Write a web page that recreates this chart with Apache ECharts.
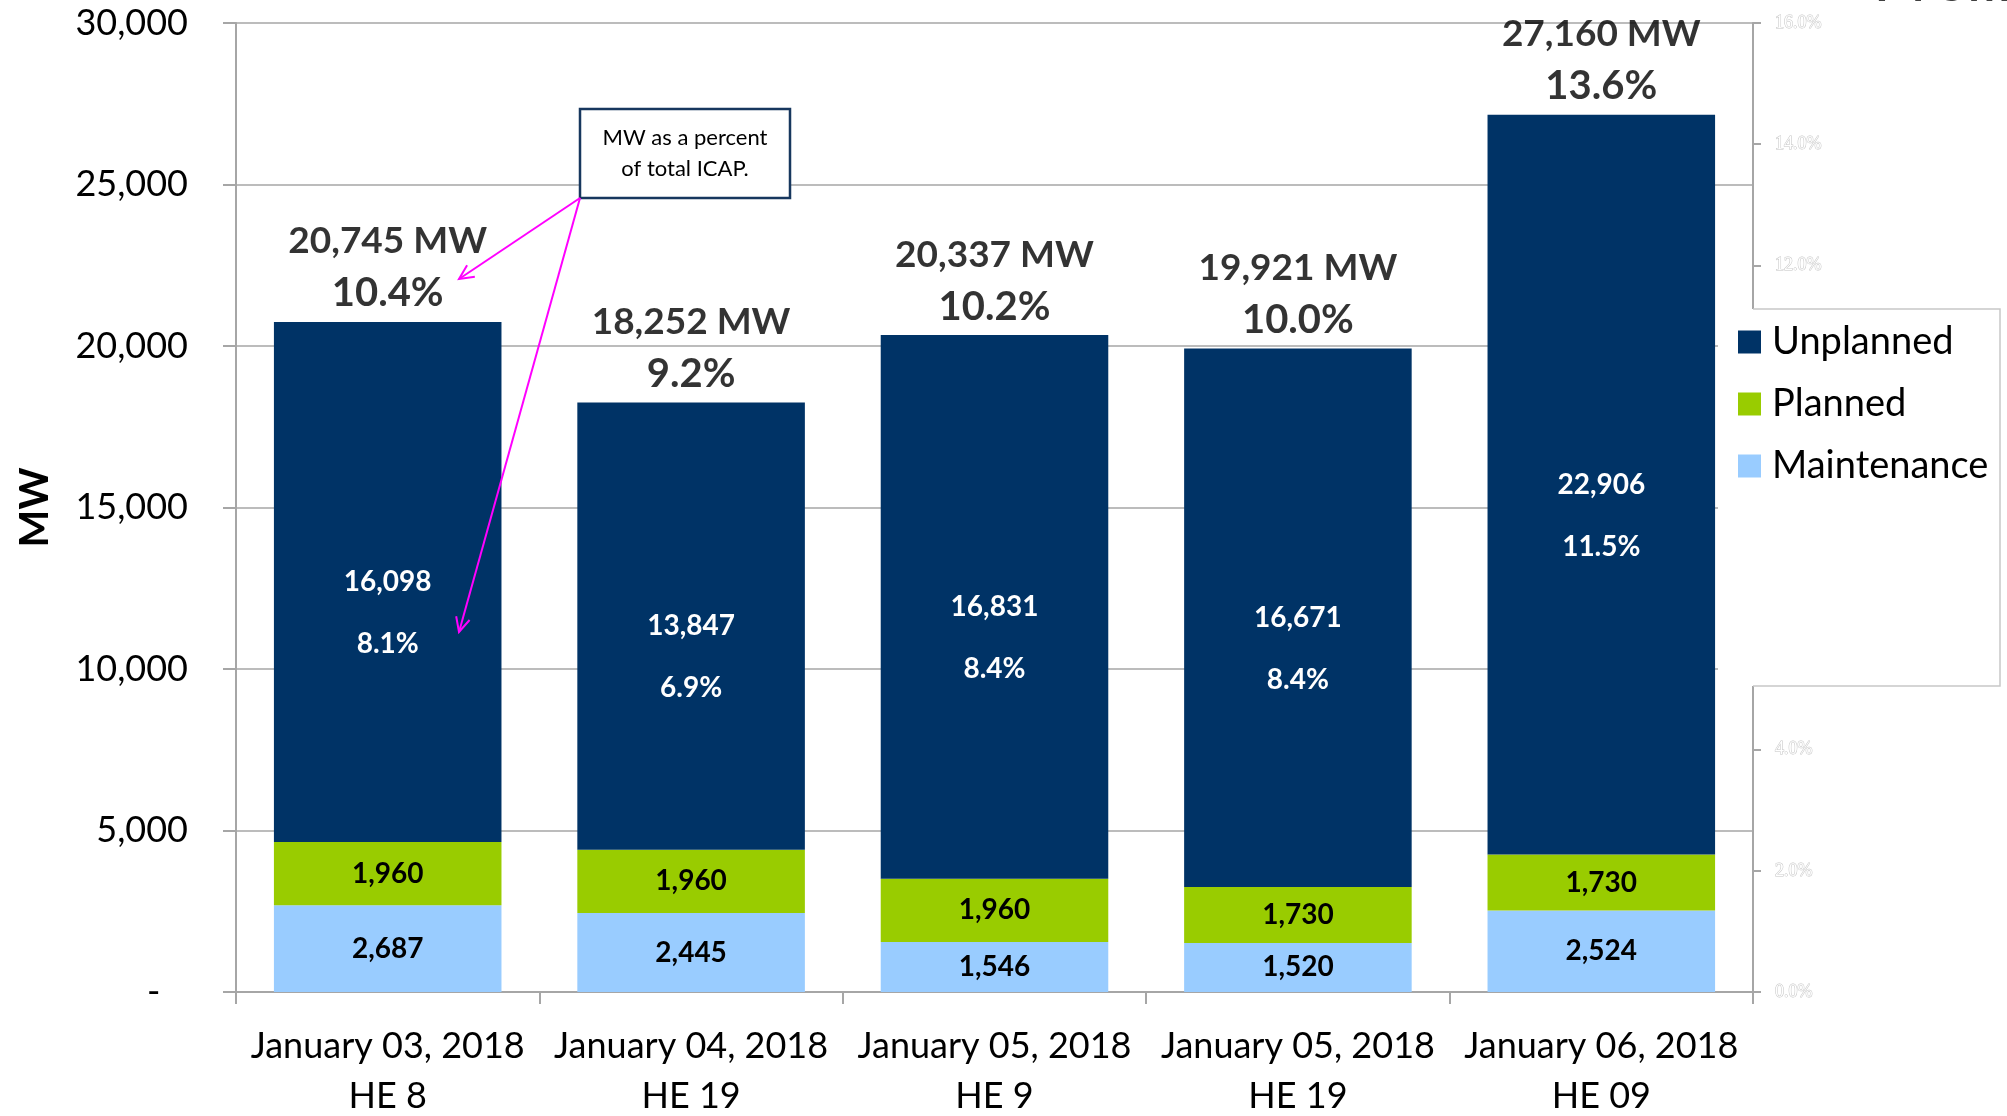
<!DOCTYPE html>
<html>
<head>
<meta charset="utf-8">
<title>Outages by day</title>
<script src="https://cdn.jsdelivr.net/npm/echarts@6/dist/echarts.min.js"></script>
<style>
  html, body { margin: 0; padding: 0; background: #fff; }
  #chartBox { width: 2007px; height: 1116px; }
</style>
</head>
<body>
<div id="chartBox"></div>
<script>
// categories (date + hour ending)
const days = [
  'January 03, 2018\nHE 8',
  'January 04, 2018\nHE 19',
  'January 05, 2018\nHE 9',
  'January 05, 2018\nHE 19',
  'January 06, 2018\nHE 09'
]
// MW per outage type
const maintenance = [2687, 2445, 1546, 1520, 2524]
const planned = [1960, 1960, 1960, 1730, 1730]
const unplanned = [16098, 13847, 16831, 16671, 22906]
const unplannedPct = ['8.1%', '6.9%', '8.4%', '8.4%', '11.5%']
// totals above the bars
const totals = [20745, 18252, 20337, 19921, 27160]
const totalPct = ['10.4%', '9.2%', '10.2%', '10.0%', '13.6%']
// axis ticks
const mwTicks = [0, 5000, 10000, 15000, 20000, 25000, 30000]
const pctTicks = [0, 2, 4, 6, 8, 10, 12, 14, 16]

const font = 'Lato'
const gridColor = '#a6a6a6'
const fmt = v => v.toLocaleString('en-US')

// simple line arrow with open head
function arrow(x1, y1, x2, y2) {
  let a = Math.atan2(y2 - y1, x2 - x1)
  let len = 16
  let spread = 0.45
  let style = { stroke: '#ff00ff', lineWidth: 2 }
  return [
    { type: 'line', shape: { x1: x1, y1: y1, x2: x2, y2: y2 }, style: style, z: 100 },
    {
      type: 'polyline',
      shape: {
        points: [
          [x2 - len * Math.cos(a - spread), y2 - len * Math.sin(a - spread)],
          [x2, y2],
          [x2 - len * Math.cos(a + spread), y2 - len * Math.sin(a + spread)]
        ]
      },
      style: style,
      z: 100
    }
  ]
}

let myChart = echarts.init(document.getElementById('chartBox'))
myChart.setOption({
  animation: false,
  backgroundColor: '#fff',
  textStyle: { fontFamily: font },
  grid: {
    left: 236,
    right: 254,
    top: 23,
    bottom: 124,
    outerBoundsMode: 'none'
  },
  legend: {
    data: ['Unplanned', 'Planned', 'Maintenance'],
    orient: 'vertical',
    left: 1718,
    top: 309,
    padding: [14, 6, 201, 20],
    backgroundColor: '#fff',
    icon: 'rect',
    itemWidth: 23,
    itemHeight: 23,
    itemGap: 24,
    textStyle: { fontFamily: font, fontSize: 38, color: '#000', lineHeight: 34, padding: [0, 0, 0, 6] },
    z: 20
  },
  xAxis: {
    type: 'category',
    data: days,
    axisLine: { show: true, lineStyle: { color: gridColor, width: 2 } },
    axisTick: { show: true, length: 12, lineStyle: { color: gridColor, width: 2 } },
    axisLabel: {
      margin: 29,
      fontSize: 36,
      lineHeight: 50,
      color: '#000',
      fontFamily: font,
      interval: 0
    }
  },
  yAxis: [
    {
      type: 'value',
      name: 'MW',
      nameLocation: 'middle',
      nameGap: 181,
      nameRotate: 90,
      nameTextStyle: { fontSize: 40, fontWeight: 'bold', color: '#000', fontFamily: font },
      min: mwTicks[0],
      max: mwTicks[mwTicks.length - 1],
      interval: mwTicks[1] - mwTicks[0],
      axisLine: { show: true, lineStyle: { color: gridColor, width: 2 } },
      axisTick: { show: true, length: 13, lineStyle: { color: gridColor, width: 2 } },
      splitLine: { show: true, lineStyle: { color: gridColor, width: 1.5 } },
      axisLabel: {
        margin: 48,
        fontSize: 36,
        color: '#000',
        fontFamily: font,
        formatter: v => (v === 0 ? '-   ' : fmt(v))
      }
    },
    {
      type: 'value',
      position: 'right',
      min: pctTicks[0],
      max: pctTicks[pctTicks.length - 1],
      interval: pctTicks[1] - pctTicks[0],
      axisLine: { show: true, lineStyle: { color: gridColor, width: 2 } },
      axisTick: { show: true, length: 8, lineStyle: { color: gridColor, width: 2 } },
      splitLine: { show: false },
      axisLabel: {
        margin: 22,
        fontSize: 18,
        fontFamily: 'Liberation Serif',
        color: '#fff',
        textBorderColor: '#c4c4c4',
        textBorderWidth: 1,
        formatter: v => v.toFixed(1) + '%'
      }
    }
  ],
  series: [
    {
      name: 'Maintenance',
      type: 'bar',
      stack: 'mw',
      barCategoryGap: '25%',
      data: maintenance,
      itemStyle: { color: '#99ccff' },
      label: {
        show: true,
        position: 'inside',
        color: '#000',
        fontSize: 28,
        fontWeight: 'bold',
        fontFamily: font,
        formatter: p => fmt(p.value)
      }
    },
    {
      name: 'Planned',
      type: 'bar',
      stack: 'mw',
      data: planned,
      itemStyle: { color: '#99cc00' },
      label: {
        show: true,
        position: 'inside',
        color: '#000',
        fontSize: 28,
        fontWeight: 'bold',
        fontFamily: font,
        formatter: p => fmt(p.value)
      }
    },
    {
      name: 'Unplanned',
      type: 'bar',
      stack: 'mw',
      data: unplanned,
      itemStyle: { color: '#003366' },
      label: {
        show: true,
        position: 'inside',
        offset: [0, 31],
        formatter: p => '{a|' + fmt(p.value) + '}\n{a|' + unplannedPct[p.dataIndex] + '}',
        rich: {
          a: { color: '#fff', fontSize: 28, fontWeight: 'bold', fontFamily: font, lineHeight: 62 }
        }
      }
    },
    {
      // totals on top of each stack
      name: 'Total',
      type: 'scatter',
      data: totals,
      symbolSize: 1,
      itemStyle: { color: 'rgba(0,0,0,0)' },
      silent: true,
      z: 10,
      label: {
        show: true,
        position: 'top',
        distance: 3,
        formatter: p => '{a|' + fmt(p.value) + ' MW}\n{b|' + totalPct[p.dataIndex] + '}',
        rich: {
          a: { color: '#000', fontSize: 37, fontWeight: 'bold', fontFamily: font, lineHeight: 54 },
          b: { color: '#000', fontSize: 40, fontWeight: 'bold', fontFamily: font, lineHeight: 50 }
        }
      }
    }
  ],
  graphic: [
    // cut-off title at top right
    {
      type: 'text',
      left: 1873,
      top: -52,
      style: { text: 'Prelim', fontSize: 64, fontFamily: font, fill: '#404040' },
      z: 1
    },
    // legend outline
    {
      type: 'polyline',
      shape: { points: [[1753, 309], [2000, 309], [2000, 686], [1753, 686]] },
      style: { stroke: '#c8c8c8', lineWidth: 1.5, fill: null },
      z: 30
    },
    // annotation box
    {
      type: 'rect',
      shape: { x: 580, y: 109, width: 210, height: 89 },
      style: { fill: '#fff', stroke: '#17375e', lineWidth: 2.5 },
      z: 90
    },
    {
      type: 'text',
      x: 685,
      y: 153,
      style: {
        text: 'MW as a percent\nof total ICAP.',
        fontSize: 22,
        lineHeight: 31,
        fontFamily: font,
        fill: '#000',
        align: 'center',
        verticalAlign: 'middle'
      },
      z: 91
    }
  ].concat(arrow(580, 198, 459, 279), arrow(580, 198, 459, 632))
})
</script>
</body>
</html>
